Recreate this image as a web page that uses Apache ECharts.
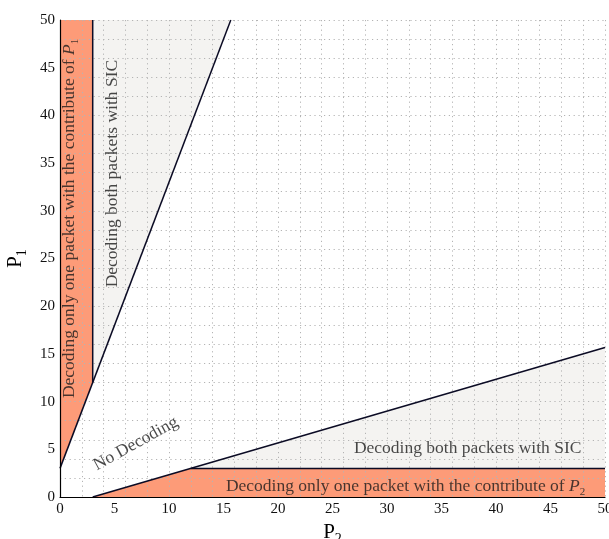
<!DOCTYPE html>
<html>
<head>
<meta charset="utf-8">
<script src="https://cdn.jsdelivr.net/npm/echarts@6/dist/echarts.min.js"></script>
<style>
  html, body { margin: 0; padding: 0; background: #fff; }
  #chart { width: 609px; height: 539px; }
</style>
</head>
<body>
<div id="chart"></div>
<script>
// Axis ranges and tick values (P2 on x, P1 on y)
const axisMin = 0;
const axisMax = 50;
const tickStep = 5;
const gridStep = 2;

// Region outlines, as [P2, P1] vertices
const p1OnlyRegion = [[0, 3], [0, 50], [3, 50], [3, 12]];
const p2OnlyRegion = [[3, 0], [12, 3], [50, 3], [50, 0]];
const sicUpperRegion = [[3, 12], [3, 50], [15.67, 50]];
const sicLowerRegion = [[12, 3], [50, 3], [50, 15.67]];

// Boundary segments
const upperSlope = [[0, 3], [15.67, 50]];
const lowerSlope = [[3, 0], [50, 15.67]];
const upperWall = [[3, 12], [3, 50]];
const lowerWall = [[12, 3], [50, 3]];

// Region captions and their anchor points [P2, P1]
const captionTexts = [
  '{t|Decoding only one packet with the contribute of }{i|P}{s|1}',
  '{t|Decoding both packets with SIC}',
  '{t|No Decoding}',
  '{t|Decoding both packets with SIC}',
  '{t|Decoding only one packet with the contribute of }{i|P}{s|2}'
];
const captionAnchors = [[1.0, 29.2], [4.9, 33.9], [7.0, 5.5], [37.4, 5.0], [31.7, 1.0]];
const captionAngles = [90, 90, 29, 0, 0];

const ORANGE = '#fd9b78';
const LIGHT = '#f4f3f1';
const LINE = '#0b0b24';
const SERIF = '"Liberation Serif", "DejaVu Serif", serif';

const chart = echarts.init(document.getElementById('chart'), null, { renderer: 'canvas' });

function polygonSeries(points, color) {
  return {
    type: 'custom',
    coordinateSystem: 'cartesian2d',
    xAxisIndex: 0,
    yAxisIndex: 0,
    z: 2,
    silent: true,
    data: [points[0]],
    renderItem: function (params, api) {
      return {
        type: 'polygon',
        shape: { points: points.map(function (p) { return api.coord(p); }) },
        style: { fill: color, stroke: null }
      };
    }
  };
}

function edgeSeries(points) {
  return {
    type: 'line',
    xAxisIndex: 0,
    yAxisIndex: 0,
    z: 6,
    silent: true,
    symbol: 'none',
    data: points,
    lineStyle: { color: LINE, width: 1.5 }
  };
}

const captionRich = {
  t: { fontFamily: SERIF, fontSize: 17.5, color: '#1a1a1a', lineHeight: 20, verticalAlign: 'top' },
  i: { fontFamily: SERIF, fontSize: 17.5, fontStyle: 'italic', color: '#1a1a1a', lineHeight: 20, verticalAlign: 'top' },
  s: { fontFamily: SERIF, fontSize: 11, color: '#1a1a1a', lineHeight: 11, verticalAlign: 'bottom' }
};

const nameRich = {
  p: { fontFamily: SERIF, fontSize: 21, color: '#000', lineHeight: 24, verticalAlign: 'top' },
  s: { fontFamily: SERIF, fontSize: 14, color: '#000', lineHeight: 14, verticalAlign: 'bottom' }
};

const gridLine = { show: true, lineStyle: { color: '#b4b4b4', width: 1, type: [1.2, 3.6] } };

const option = {
  animation: false,
  backgroundColor: '#fff',
  grid: { left: 60, right: 4, top: 20, bottom: 42, containLabel: false, outerBoundsMode: 'none' },
  xAxis: [
    {
      type: 'value', min: axisMin, max: axisMax, interval: tickStep,
      name: '{p|P}{s|2}', nameLocation: 'middle', nameGap: 16,
      nameTextStyle: { rich: nameRich },
      axisLine: { show: true, onZero: false, lineStyle: { color: '#000', width: 1.2 } },
      axisTick: { show: false },
      splitLine: { show: false },
      axisLabel: { fontFamily: SERIF, fontSize: 15, color: '#111', margin: 5 },
      z: 7
    },
    {
      type: 'value', min: axisMin, max: axisMax, interval: gridStep,
      axisLine: { show: false }, axisTick: { show: false }, axisLabel: { show: false },
      splitLine: gridLine,
      z: 4
    }
  ],
  yAxis: [
    {
      type: 'value', min: axisMin, max: axisMax, interval: tickStep,
      name: '{p|P}{s|1}', nameLocation: 'middle', nameGap: 28, nameRotate: 90,
      nameTextStyle: { rich: nameRich },
      axisLine: { show: true, onZero: false, lineStyle: { color: '#000', width: 1.2 } },
      axisTick: { show: false },
      splitLine: { show: false },
      axisLabel: { fontFamily: SERIF, fontSize: 15, color: '#111', margin: 5 },
      z: 7
    },
    {
      type: 'value', min: axisMin, max: axisMax, interval: gridStep,
      axisLine: { show: false }, axisTick: { show: false }, axisLabel: { show: false },
      splitLine: gridLine,
      z: 4
    }
  ],
  series: [
    polygonSeries(sicUpperRegion, LIGHT),
    polygonSeries(sicLowerRegion, LIGHT),
    polygonSeries(p1OnlyRegion, ORANGE),
    polygonSeries(p2OnlyRegion, ORANGE),
    edgeSeries(upperSlope),
    edgeSeries(lowerSlope),
    edgeSeries(upperWall),
    edgeSeries(lowerWall),
    {
      type: 'scatter',
      xAxisIndex: 0,
      yAxisIndex: 0,
      z: 8,
      silent: true,
      symbolSize: 0,
      data: captionAnchors.map(function (p, k) {
        return {
          value: p,
          label: {
            show: true,
            position: 'inside',
            rotate: captionAngles[k],
            align: 'center',
            verticalAlign: 'middle',
            formatter: captionTexts[k],
            rich: captionRich
          }
        };
      })
    }
  ]
};

chart.setOption(option);
</script>
</body>
</html>
